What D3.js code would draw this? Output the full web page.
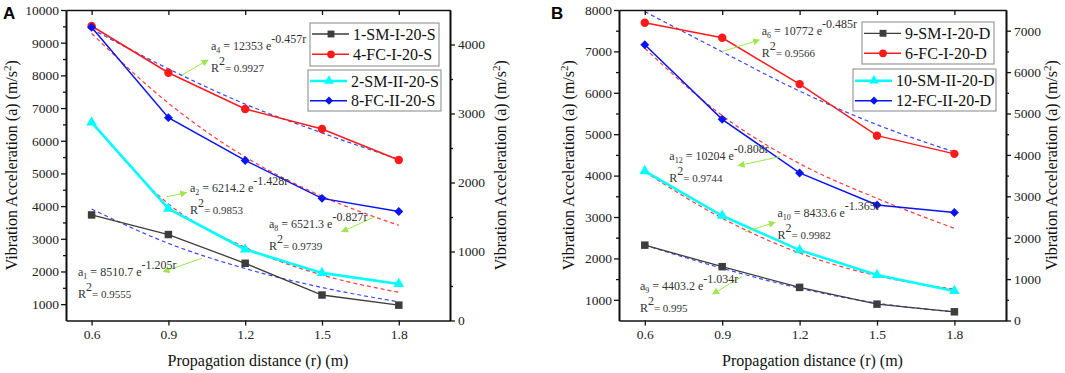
<!DOCTYPE html>
<html>
<head>
<meta charset="utf-8">
<script src="https://cdn.jsdelivr.net/npm/d3@7/dist/d3.min.js"></script>
<style>
  body { margin: 0; background: #fff; }
  svg text { font-family: "Liberation Serif", Tinos, "Times New Roman", Times, "DejaVu Serif", serif; }
</style>
</head>
<body>
<svg id="chart" width="1065" height="373"></svg>
<script>
// ---- data ----
const distances = [0.6, 0.9, 1.2, 1.5, 1.8];

// panel A (left axis: 1-SM, 4-FC ; right axis: 2-SM, 8-FC)
const smI20S  = [3730, 3130, 2250, 1280, 970];
const fcI20S  = [9510, 8080, 6970, 6360, 5410];
const smII20S = [2870, 1620, 1030, 690, 530];
const fcII20S = [4250, 2940, 2320, 1770, 1580];
const fitSmI20S  = [3910, 2860, 2090, 1510, 1070];
const fitFcI20S  = [9420, 8200, 7120, 6240, 5430];
const fitSmII20S = [2880, 1690, 1060, 660, 410];
const fitFcII20S = [4160, 3150, 2370, 1800, 1380];

// panel B (left axis: 9-SM, 6-FC ; right axis: 10-SM, 12-FC)
const smI20D  = [2320, 1800, 1300, 895, 710];
const fcI20D  = [7690, 7330, 6210, 4965, 4525];
const smII20D = [3610, 2530, 1700, 1100, 715];
const fcII20D = [6660, 4860, 3565, 2790, 2610];
const fitSmI20D  = [2320, 1760, 1280, 920, 710];
const fitFcI20D  = [7960, 6990, 6040, 5230, 4570];
const fitSmII20D = [3590, 2470, 1630, 1080, 760];
const fitFcII20D = [6575, 4950, 3790, 2950, 2225];

const xTicks = [0.6, 0.9, 1.2, 1.5, 1.8];
const leftTicksA = [1000, 2000, 3000, 4000, 5000, 6000, 7000, 8000, 9000, 10000];
const rightTicksA = [0, 1000, 2000, 3000, 4000];
const leftTicksB = [1000, 2000, 3000, 4000, 5000, 6000, 7000, 8000];
const rightTicksB = [0, 1000, 2000, 3000, 4000, 5000, 6000, 7000];

const GRAY = "#3d3d3d", RED = "#ff1a1a", CYAN = "#00ffff", BLUE = "#0a14f0";
const FIT_BLUE = "#3c46ff", FIT_RED = "#ff3b3b", ARROW = "#9be84a";
const SERIF = "'Liberation Serif', Tinos, 'Times New Roman', Times, 'DejaVu Serif', serif";

const svg = d3.select("#chart");

const defs = svg.append("defs");
defs.append("marker")
    .attr("id", "arrowHead")
    .attr("viewBox", "0 0 10 10")
    .attr("refX", 9).attr("refY", 5)
    .attr("markerWidth", 7).attr("markerHeight", 7)
    .attr("markerUnits", "userSpaceOnUse")
    .attr("orient", "auto")
    .append("path")
    .attr("d", "M0,0 L10,5 L0,10 z")
    .attr("fill", ARROW);

function symbolPath(kind, big) {
    let k = big ? 1 : 0.85;
    if (kind === "square") return d3.symbol(d3.symbolSquare, 56 * k)();
    if (kind === "circle") return d3.symbol(d3.symbolCircle, 56 * k)();
    if (kind === "triangle") return d3.symbol(d3.symbolTriangle, 50 * k)();
    return d3.symbol(d3.symbolSquare, 40 * k)();
}

function drawPanel(p) {
    let g = svg.append("g").style("font-family", SERIF);

    let x = d3.scaleLinear().domain([0.5, 2.0]).range([p.left, p.right]);
    let yL = d3.scaleLinear().domain(p.leftDomain).range([p.bottom, p.top]);
    let yR = d3.scaleLinear().domain(p.rightDomain).range([p.bottom, p.top]);

    // fitted (dashed) curves
    p.series.forEach(s => {
        let y = s.axis === "L" ? yL : yR;
        let line = d3.line()
            .x((d, i) => x(distances[i]))
            .y(d => y(d))
            .curve(d3.curveMonotoneX);
        g.append("path")
            .attr("d", line(s.fit))
            .attr("fill", "none")
            .attr("stroke", s.fitColor)
            .attr("stroke-width", 1.2)
            .attr("stroke-dasharray", "4,3");
    });

    // measured series
    p.series.forEach(s => {
        let y = s.axis === "L" ? yL : yR;
        let line = d3.line()
            .x((d, i) => x(distances[i]))
            .y(d => y(d));
        g.append("path")
            .attr("d", line(s.values))
            .attr("fill", "none")
            .attr("stroke", s.color)
            .attr("stroke-width", s.width);
        g.selectAll(null)
            .data(s.values)
            .enter()
            .append("path")
            .attr("d", symbolPath(s.symbol, true))
            .attr("transform", (d, i) => `translate(${x(distances[i])},${y(d)})` + (s.symbol === "diamond" ? " rotate(45)" : ""))
            .attr("fill", s.color);
    });

    // axes
    let axisStyle = sel => {
        sel.attr("font-family", null);
        sel.select(".domain").attr("stroke", "#111").attr("stroke-width", 1.6);
        sel.selectAll(".tick line").attr("stroke", "#111").attr("stroke-width", 1.3);
        sel.selectAll(".tick text")
            .attr("fill", "#222")
            .style("font-size", "13.5px")
            .style("font-family", SERIF);
    };

    g.append("g")
        .attr("transform", `translate(0,${p.bottom})`)
        .call(d3.axisBottom(x).tickValues(xTicks).tickSize(5).tickSizeOuter(0).tickPadding(4).tickFormat(d3.format(".1f")))
        .call(axisStyle);

    g.append("g")
        .attr("transform", `translate(0,${p.top})`)
        .call(d3.axisTop(x).tickValues(xTicks).tickSize(-5).tickSizeOuter(0).tickFormat(""))
        .call(axisStyle);

    g.append("g")
        .attr("transform", `translate(${p.left},0)`)
        .call(d3.axisLeft(yL).tickValues(p.leftTicks).tickSize(5).tickSizeOuter(0).tickPadding(2).tickFormat(d3.format("d")))
        .call(axisStyle);
    g.append("g")
        .attr("transform", `translate(${p.left},0)`)
        .call(d3.axisLeft(yL).tickValues(p.leftTicks.map(d => d + 500).filter(d => d < p.leftDomain[1])).tickSize(3).tickSizeOuter(0).tickFormat(""))
        .call(axisStyle);

    g.append("g")
        .attr("transform", `translate(${p.right},0)`)
        .call(d3.axisRight(yR).tickValues(p.rightTicks).tickSize(5).tickSizeOuter(0).tickPadding(3).tickFormat(d3.format("d")))
        .call(axisStyle);
    g.append("g")
        .attr("transform", `translate(${p.right},0)`)
        .call(d3.axisRight(yR).tickValues(p.rightTicks.map(d => d + 500).filter(d => d < p.rightDomain[1])).tickSize(3).tickSizeOuter(0).tickFormat(""))
        .call(axisStyle);

    // axis titles
    let yTitle = (tx, ty) => {
        let t = g.append("text")
            .attr("transform", `translate(${tx},${ty}) rotate(-90)`)
            .attr("text-anchor", "middle")
            .style("font-size", "16px")
            .attr("fill", "#111");
        t.append("tspan").text("Vibration Acceleration (a) (m/s");
        t.append("tspan").attr("dy", -6).style("font-size", "11px").text("2");
        t.append("tspan").attr("dy", 6).text(")");
    };
    let midY = (p.top + p.bottom) / 2;
    yTitle(p.leftTitleX, midY);
    yTitle(p.rightTitleX, midY);

    g.append("text")
        .attr("x", (p.left + p.right) / 2)
        .attr("y", 366)
        .attr("text-anchor", "middle")
        .style("font-size", "16px")
        .attr("fill", "#111")
        .text("Propagation distance (r) (m)");

    g.append("text")
        .attr("x", p.letterX)
        .attr("y", 19)
        .style("font-family", "'Liberation Sans', Arial, sans-serif")
        .style("font-size", "17px")
        .style("font-weight", "bold")
        .attr("fill", "#000")
        .text(p.letter);

    // fit equations with arrows
    p.notes.forEach(n => {
        g.append("line")
            .attr("x1", x(n.from[0])).attr("y1", yL(n.from[1]))
            .attr("x2", x(n.to[0])).attr("y2", yL(n.to[1]))
            .attr("stroke", ARROW)
            .attr("stroke-width", 1)
            .attr("marker-end", "url(#arrowHead)");

        let tx = x(n.at[0]), ty = yL(n.at[1]);
        let t1 = g.append("text").attr("x", tx).attr("y", ty).attr("fill", "#333").style("font-size", "12px");
        t1.append("tspan").text("a");
        t1.append("tspan").attr("dy", 3).style("font-size", "8px").text(n.sub);
        t1.append("tspan").attr("dy", -3).text(" = " + n.coef + " e");
        t1.append("tspan").attr("dy", -7).style("font-size", "12px").text(n.exp);

        let t2 = g.append("text").attr("x", tx).attr("y", ty + 22).attr("fill", "#333").style("font-size", "12px");
        t2.append("tspan").text("R");
        t2.append("tspan").attr("dy", -7).style("font-size", "12px").text("2");
        t2.append("tspan").attr("dy", 7).style("font-size", "11px").text("= " + n.r2);
    });

    // legends (two boxes)
    p.legends.forEach(box => {
        let lg = g.append("g");
        lg.append("rect")
            .attr("x", box.x0).attr("y", box.y0)
            .attr("width", box.x1 - box.x0).attr("height", box.y1 - box.y0)
            .attr("fill", "#fff")
            .attr("stroke", "#9a9a9a")
            .attr("stroke-width", 1.2);
        box.items.forEach((s, i) => {
            let ry = box.rows[i];
            lg.append("line")
                .attr("x1", box.x0 + 2).attr("x2", box.x0 + 39)
                .attr("y1", ry).attr("y2", ry)
                .attr("stroke", s.color)
                .attr("stroke-width", s.width);
            lg.append("path")
                .attr("d", symbolPath(s.symbol, false))
                .attr("transform", `translate(${box.x0 + 21},${ry})` + (s.symbol === "diamond" ? " rotate(45)" : ""))
                .attr("fill", s.color);
            lg.append("text")
                .attr("x", box.x0 + 43)
                .attr("y", ry + 5.5)
                .style("font-size", "16px")
                .attr("fill", "#111")
                .text(s.name);
        });
    });
}

const seriesA = [
    { name: "1-SM-I-20-S", values: smI20S, fit: fitSmI20S, axis: "L", color: GRAY, width: 1.3, symbol: "square", fitColor: FIT_BLUE },
    { name: "4-FC-I-20-S", values: fcI20S, fit: fitFcI20S, axis: "L", color: RED, width: 1.5, symbol: "circle", fitColor: FIT_BLUE },
    { name: "2-SM-II-20-S", values: smII20S, fit: fitSmII20S, axis: "R", color: CYAN, width: 2.6, symbol: "triangle", fitColor: FIT_RED },
    { name: "8-FC-II-20-S", values: fcII20S, fit: fitFcII20S, axis: "R", color: BLUE, width: 1.5, symbol: "diamond", fitColor: FIT_RED }
];

const seriesB = [
    { name: "9-SM-I-20-D", values: smI20D, fit: fitSmI20D, axis: "L", color: GRAY, width: 1.3, symbol: "square", fitColor: FIT_BLUE },
    { name: "6-FC-I-20-D", values: fcI20D, fit: fitFcI20D, axis: "L", color: RED, width: 1.5, symbol: "circle", fitColor: FIT_BLUE },
    { name: "10-SM-II-20-D", values: smII20D, fit: fitSmII20D, axis: "R", color: CYAN, width: 2.6, symbol: "triangle", fitColor: FIT_RED },
    { name: "12-FC-II-20-D", values: fcII20D, fit: fitFcII20D, axis: "R", color: BLUE, width: 1.5, symbol: "diamond", fitColor: FIT_RED }
];

drawPanel({
    letter: "A", letterX: 3,
    left: 66, right: 450, top: 10, bottom: 320.5,
    leftDomain: [500, 10000], rightDomain: [0, 4500],
    leftTicks: leftTicksA, rightTicks: rightTicksA,
    leftTitleX: 17, rightTitleX: 506,
    series: seriesA,
    notes: [
        { sub: "4", coef: "12353", exp: "-0.457r", r2: "0.9927", at: [1.066, 8776], from: [0.953, 8011], to: [1.055, 8470] },
        { sub: "2", coef: "6214.2", exp: "-1.428r", r2: "0.9853", at: [0.984, 4431], from: [0.893, 4287], to: [0.971, 4410] },
        { sub: "8", coef: "6521.3", exp: "-0.827r", r2: "0.9739", at: [1.293, 3329], from: [1.707, 3675], to: [1.577, 3216] },
        { sub: "1", coef: "8510.7", exp: "-1.205r", r2: "0.9555", at: [0.547, 1860], from: [1.030, 2402], to: [0.880, 1992] }
    ],
    legends: [
        { x0: 310, x1: 439, y0: 23, y1: 66, rows: [34, 54.3], items: seriesA.slice(0, 2) },
        { x0: 308, x1: 441, y0: 70, y1: 111, rows: [81, 100.7], items: seriesA.slice(2, 4) }
    ]
});

drawPanel({
    letter: "B", letterX: 551,
    left: 619, right: 1006, top: 10, bottom: 320.5,
    leftDomain: [500, 8000], rightDomain: [0, 7500],
    leftTicks: leftTicksB, rightTicks: rightTicksB,
    leftTitleX: 574, rightTitleX: 1057,
    series: seriesB,
    notes: [
        { sub: "6", coef: "10772", exp: "-0.485r", r2: "0.9566", at: [1.053, 7396], from: [0.898, 6993], to: [1.044, 7275] },
        { sub: "12", coef: "10204", exp: "-0.808r", r2: "0.9744", at: [0.695, 4377], from: [1.124, 4457], to: [0.962, 4239] },
        { sub: "10", coef: "8433.6", exp: "-1.365r", r2: "0.9982", at: [1.114, 3000], from: [0.988, 2638], to: [1.105, 2872] },
        { sub: "9", coef: "4403.2", exp: "-1.034r", r2: "0.995", at: [0.581, 1237], from: [0.976, 1558], to: [0.863, 1140] }
    ],
    legends: [
        { x0: 862, x1: 994, y0: 22, y1: 64, rows: [33.3, 53.3], items: seriesB.slice(0, 2) },
        { x0: 853, x1: 996, y0: 69, y1: 111, rows: [80.7, 100.7], items: seriesB.slice(2, 4) }
    ]
});
</script>
</body>
</html>
